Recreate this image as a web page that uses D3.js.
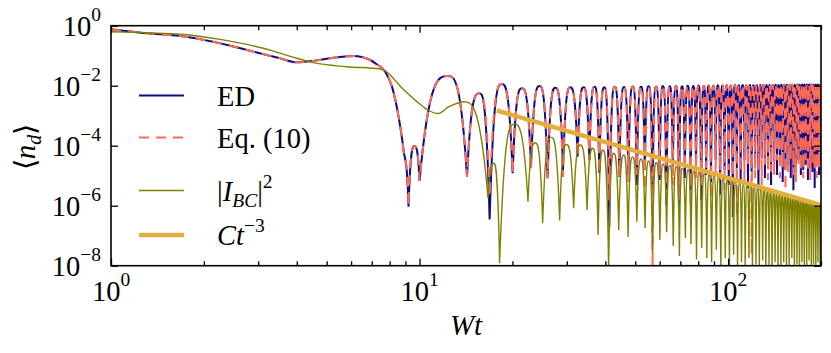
<!DOCTYPE html>
<html>
<head>
<meta charset="utf-8">
<script src="https://cdn.jsdelivr.net/npm/d3@7"></script>
<style>
  body { margin: 0; background: #fff; }
</style>
</head>
<body>
<div id="graphicContainer"></div>
<script>
// ---- data: [Wt, <n_d>] ----

// ED and Eq. (10), smooth start (both curves agree here)
var edStartT = [1.0, 1.31, 1.68, 2.14, 2.76, 3.53, 4.0, 4.53, 5.13, 6.11, 6.92, 7.18, 7.74, 8.14, 8.55, 8.87];
var edStartV = [0.76, 0.56, 0.45, 0.29, 0.155, 0.082, 0.060, 0.067, 0.082, 0.098, 0.072, 0.056, 0.029, 0.0093, 9.3e-4, 7.2e-5];

// maxima of the oscillation (shared by ED and Eq. (10))
var edPeakT = [9.63, 12.36, 15.62, 18.47, 21.48, 24.49, 27.54, 30.8, 34.0, 36.9, 39.7, 42.9,
  46.0, 49.1, 52.2, 55.3, 58.4, 61.5, 64.7, 67.8, 70.9, 74.0, 77.1, 80.2, 83.4, 86.5, 89.6, 92.7,
  95.8, 98.9, 102.0, 105.2, 108.3, 111.4, 114.5, 117.6, 120.7, 123.8, 127.0, 130.1, 133.2, 136.3,
  139.4, 142.5, 145.7, 148.8, 151.9, 155.0, 158.1, 161.2, 164.3, 167.5, 170.6, 173.7, 176.8, 179.9,
  183.0, 186.1, 189.3, 192.4, 195.5, 198.6];
var edPeakV = [9.8e-5, 0.021, 5.6e-3, 0.0114, 8.2e-3, 9.8e-3, 8.6e-3, 8.8e-3, 8.8e-3, 9.3e-3, 8.8e-3, 9.3e-3,
  9.0e-3, 9.4e-3, 9.2e-3, 9.6e-3, 9.4e-3, 9.8e-3, 9.5e-3, 9.9e-3, 9.6e-3, 1.0e-2, 9.7e-3, 1.01e-2, 9.9e-3, 1.02e-2, 1.0e-2, 1.03e-2,
  1.01e-2, 1.04e-2, 1.02e-2, 1.05e-2, 1.03e-2, 1.05e-2, 1.04e-2, 1.06e-2, 1.04e-2, 1.06e-2, 1.05e-2, 1.07e-2, 1.05e-2, 1.07e-2,
  1.06e-2, 1.08e-2, 1.06e-2, 1.08e-2, 1.07e-2, 1.08e-2, 1.07e-2, 1.09e-2, 1.08e-2, 1.09e-2, 1.08e-2, 1.1e-2, 1.09e-2, 1.1e-2,
  1.09e-2, 1.1e-2, 1.1e-2, 1.1e-2, 1.1e-2, 1.1e-2];

// minima: ED (blue) and Eq. (10) (dashed) differ in depth
var edDipT = [9.21, 10.0, 14.25, 16.87, 20.03, 22.97, 26.0, 29.17, 32.53, 35.5, 38.25, 41.2, 44.4,
  47.5, 50.6, 53.7, 56.9, 60.0, 63.1, 66.2, 69.3, 72.4, 75.6, 78.7, 81.8, 84.9, 88.0, 91.1, 94.2,
  97.4, 100.5, 103.6, 106.7, 109.8, 112.9, 116.0, 119.2, 122.3, 125.4, 128.5, 131.6, 134.7, 137.8,
  141.0, 144.1, 147.2, 150.3, 153.4, 156.5, 159.6, 162.8, 165.9, 169.0, 172.1, 175.2, 178.3, 181.4,
  184.6, 187.7, 190.8, 193.9, 197.0, 200.1];
var edDipV = [9.3e-7, 6.7e-6, 9.3e-6, 3.5e-7, 1.2e-5, 2.0e-5, 8.2e-6, 1.5e-5, 4.3e-5, 3.3e-5, 1.2e-5, 2.0e-7, 9.3e-6,
  1.05e-5, 4.9e-6, 1.55e-5, 2.3e-6, 7.2e-6, 1.05e-6, 1.33e-5, 7.2e-7, 8.4e-6, 3.3e-6, 2.3e-5, 1.55e-6, 1.05e-5, 6.2e-6, 3.3e-5, 2.3e-6,
  1.55e-5, 4.9e-6, 4.2e-7, 1.8e-5, 7.2e-6, 3.3e-5, 3.9e-6, 1.33e-5, 2.3e-5, 3.3e-6, 3.9e-5, 8.4e-6, 1.8e-5, 4.9e-6,
  2.9e-5, 1.05e-5, 4.9e-5, 6.2e-6, 1.55e-5, 2.3e-5, 8.4e-6, 3.3e-6, 1.8e-5, 3.3e-5, 1.05e-5, 1.55e-5, 2.3e-5, 7.2e-6,
  1.8e-5, 1.33e-5, 3.9e-6, 2.3e-5, 1.05e-5, 1.55e-5];
var eqDipV = [9.3e-7, 6.7e-6, 9.3e-6, 2.0e-6, 1.2e-5, 1.6e-5, 8.2e-6, 9.0e-6, 4.3e-5, 3.3e-5, 1.2e-5, 1.5e-6, 9.3e-6,
  6.2e-6, 1.05e-5, 3.3e-6, 8.4e-9, 1.05e-5, 2.3e-6, 4.9e-6, 1.55e-6, 1.55e-5, 1.05e-6, 8.4e-6, 4.9e-6, 1.8e-5, 1.8e-6, 1.05e-5, 7.2e-6,
  3.3e-6, 1.55e-5, 4.9e-6, 4.2e-7, 1.33e-5, 6.2e-6, 2.3e-5, 2.3e-8, 8.4e-6, 1.55e-5, 4.9e-6, 2.3e-5, 7.2e-6, 1.33e-5,
  1.05e-5, 3.3e-5, 8.4e-6, 1.8e-5, 3.3e-6, 1.33e-5, 3.3e-5, 1.05e-5, 6.2e-6, 2.3e-5, 1.55e-5, 8.4e-6, 3.3e-5, 1.33e-5,
  7.2e-6, 2.3e-5, 1.55e-5, 8.4e-6, 1.8e-5, 1.05e-5];

// |I_BC|^2
var olStartT = [1.0, 1.31, 1.68, 2.26, 3.12, 4.0, 4.53, 5.8, 7.46, 7.74, 8.77, 9.93, 10.7, 11.47, 12.42, 13.89];
var olStartV = [0.63, 0.58, 0.52, 0.35, 0.177, 0.082, 0.0585, 0.043, 0.036, 0.031, 8.4e-3, 2.65e-3, 1.49e-3, 1.18e-3, 1.95e-3, 2.93e-3];
var olPeakT = [17.38, 20.28, 23.7, 26.7, 29.9, 33.2, 36.4, 39.3, 42.6, 45.9,
  49.0, 52.2, 55.3, 58.5, 61.6, 64.8, 67.9, 71.1, 74.2, 77.4, 80.5, 83.7, 86.8, 90.0, 93.1, 96.3,
  99.4, 102.6, 105.7, 108.9, 112.0, 115.2, 118.3, 121.5, 124.6, 127.8, 130.9, 134.1, 137.2, 140.4,
  143.5, 146.7, 149.8, 153.0, 156.1, 159.3, 162.4, 165.6, 168.7, 171.9, 175.0, 178.2, 181.3, 184.5,
  187.6, 190.8, 193.9, 197.1, 200.2];
var olPeakV = [2.6e-5, 5.3e-4, 1.26e-4, 1.9e-4, 1.1e-4, 1.05e-4, 8.2e-5, 7.2e-5, 5.6e-5, 4.9e-5,
  4.17e-5, 3.59e-5, 3.13e-5, 2.75e-5, 2.45e-5, 2.19e-5, 1.98e-5, 1.76e-5, 1.58e-5, 1.43e-5, 1.28e-5, 1.16e-5, 1.05e-5, 9.5e-6, 8.66e-6, 7.88e-6,
  7.23e-6, 6.62e-6, 6.10e-6, 5.58e-6, 5.17e-6, 4.78e-6, 4.45e-6, 4.14e-6, 3.87e-6, 3.58e-6, 3.36e-6, 3.15e-6, 2.97e-6, 2.77e-6,
  2.61e-6, 2.46e-6, 2.31e-6, 2.19e-6, 2.06e-6, 1.95e-6, 1.84e-6, 1.75e-6, 1.66e-6, 1.58e-6, 1.50e-6, 1.43e-6, 1.36e-6, 1.29e-6,
  1.23e-6, 1.17e-6, 1.12e-6, 1.07e-6, 1.02e-6];
var olDipT = [16.67, 18.17, 22.46, 25.06, 28.44, 31.58, 34.9, 37.9, 41.0, 44.2,
  47.4, 50.6, 53.8, 56.9, 60.1, 63.2, 66.4, 69.5, 72.7, 75.8, 79.0, 82.1, 85.3, 88.4, 91.6, 94.7,
  97.9, 101.0, 104.2, 107.3, 110.5, 113.6, 116.8, 119.9, 123.1, 126.2, 129.4, 132.5, 135.7, 138.8,
  142.0, 145.1, 148.3, 151.4, 154.6, 157.7, 160.9, 164.0, 167.2, 170.3, 173.5, 176.6, 179.8, 182.9,
  186.1, 189.2, 192.4, 195.5, 198.7];
var olDipV = [1.77e-6, 1.2e-8, 1.36e-6, 2.6e-7, 3.2e-7, 8.2e-7, 7.2e-7, 1.05e-7, 8e-9, 1.55e-7,
  9.1e-8, 2.9e-7, 1.8e-7, 2.7e-8, 7.2e-8, 1.3e-7, 4.5e-8, 2.1e-8, 8.4e-8, 5.3e-8, 1.6e-8, 3.9e-8, 1.8e-8, 1.3e-8, 3.4e-8, 7e-9,
  1.8e-8, 9.8e-9, 2.3e-8, 7e-9, 1.3e-8, 8.4e-9, 1.8e-8, 7e-9, 1.1e-8, 7e-9, 1.5e-8, 7e-9, 1e-8, 7e-9,
  1.3e-8, 7e-9, 8.4e-9, 1.3e-8, 7e-9, 9.5e-9, 1.8e-8, 7e-9, 1.1e-8, 7e-9, 1.3e-8, 7e-9, 9.5e-9, 1.5e-8,
  7e-9, 1.1e-8, 7e-9, 1.3e-8, 7e-9];

// C t^-3 guide line
var ctT = [17.8, 200];
var ctV = [1.49e-3, 1.05e-6];

// axes
var xMajor = [1, 10, 100];
var xMajorExp = ["0", "1", "2"];
var xMinor = [2, 3, 4, 5, 6, 7, 8, 9, 20, 30, 40, 50, 60, 70, 80, 90, 200];
var yMajor = [1, 1e-2, 1e-4, 1e-6, 1e-8];
var yMajorExp = ["0", "\u22122", "\u22124", "\u22126", "\u22128"];

var seriesNames = ["ED", "Eq. (10)", "|I_BC|^2", "Ct^-3"];
var colors = { ed: "#0a0a8c", eq: "#ff6b57", ol: "#808000", ct: "#e3ae3c" };

var serif = "Liberation Serif";


function zipPoints(ts, vs) {
    return ts.map(function(t, i) { return [t, vs[i]]; });
}

// cubic curve through the points; sharp dips (more than a decade below both
// neighbours) get a cusp, everything else uses monotone slopes
function curveCusp(context) {
    var px, py;
    return {
        areaStart: function() {}, areaEnd: function() {},
        lineStart: function() { px = []; py = []; },
        point: function(x, y) { px.push(+x); py.push(+y); },
        lineEnd: function() {
            var n = px.length;
            if (!n) return;
            context.moveTo(px[0], py[0]);
            if (n < 2) return;
            var h = [], s = [];
            for (var i = 0; i < n - 1; i++) {
                h[i] = px[i + 1] - px[i];
                s[i] = (py[i + 1] - py[i]) / h[i];
            }
            var mIn = [], mOut = [];
            mIn[0] = mOut[0] = s[0];
            mIn[n - 1] = mOut[n - 1] = s[n - 2];
            for (var i = 1; i < n - 1; i++) {
                var cusp = py[i] - py[i - 1] > 25 && py[i] - py[i + 1] > 25;
                if (cusp) {
                    mIn[i] = 3 * s[i - 1];
                    mOut[i] = 3 * s[i];
                } else if (s[i - 1] * s[i] <= 0) {
                    mIn[i] = mOut[i] = 0;
                } else {
                    var p = (s[i - 1] * h[i] + s[i] * h[i - 1]) / (h[i - 1] + h[i]);
                    var m = 2 * Math.sign(s[i]) * Math.min(Math.abs(s[i - 1]), Math.abs(s[i]), 0.5 * Math.abs(p));
                    mIn[i] = mOut[i] = m;
                }
            }
            for (var i = 0; i < n - 1; i++) {
                var d = h[i] / 3;
                context.bezierCurveTo(px[i] + d, py[i] + mOut[i] * d,
                                      px[i + 1] - d, py[i + 1] - mIn[i + 1] * d,
                                      px[i + 1], py[i + 1]);
            }
        }
    };
}

function byT(a, b) { return a[0] - b[0]; }

var edPoints = zipPoints(edStartT, edStartV).concat(zipPoints(edPeakT, edPeakV), zipPoints(edDipT, edDipV)).sort(byT);
var eqPoints = zipPoints(edStartT, edStartV).concat(zipPoints(edPeakT, edPeakV), zipPoints(edDipT, eqDipV)).sort(byT);
var olPoints = zipPoints(olStartT, olStartV).concat(zipPoints(olPeakT, olPeakV), zipPoints(olDipT, olDipV)).sort(byT);
var ctPoints = zipPoints(ctT, ctV);

var margin = {top: 25.7, right: 10, bottom: 87.3, left: 111};
var width = 831 - margin.left - margin.right,
    height = 353 - margin.top - margin.bottom;

var svg = d3.select("#graphicContainer").append("svg")
    .attr("width", 831)
    .attr("height", 353)
    .attr("font-family", serif)
    .style("display", "block");

svg.append("defs").append("clipPath").attr("id", "plotClip")
    .append("rect").attr("width", width).attr("height", height);

var g = svg.append("g").attr("transform", "translate(" + margin.left + "," + margin.top + ")");

var x = d3.scaleLog().domain([1, 200]).range([0, width]);
var y = d3.scaleLog().domain([1e-8, 1]).range([height, 0]);

var cuspLine = d3.line().x(function(d) { return x(d[0]); }).y(function(d) { return y(d[1]); }).curve(curveCusp);
var straight = d3.line().x(function(d) { return x(d[0]); }).y(function(d) { return y(d[1]); });

var plot = g.append("g").attr("clip-path", "url(#plotClip)");

plot.append("path").datum(edPoints)
    .attr("d", cuspLine).attr("fill", "none")
    .attr("stroke", colors.ed).attr("stroke-width", 2);

plot.append("path").datum(eqPoints)
    .attr("d", cuspLine).attr("fill", "none")
    .attr("stroke", colors.eq).attr("stroke-width", 2)
    .attr("stroke-dasharray", "10,7");

plot.append("path").datum(olPoints)
    .attr("d", cuspLine).attr("fill", "none")
    .attr("stroke", colors.ol).attr("stroke-width", 1.4);

plot.append("path").datum(ctPoints)
    .attr("d", straight).attr("fill", "none")
    .attr("stroke", colors.ct).attr("stroke-width", 4.5);

// ticks point inwards on all four sides
function noDomain(sel) { sel.select(".domain").remove(); }

g.append("g").attr("transform", "translate(0," + height + ")")
    .call(d3.axisBottom(x).tickValues(xMajor).tickSize(-7).tickFormat("")).call(noDomain);
g.append("g").attr("transform", "translate(0," + height + ")")
    .call(d3.axisBottom(x).tickValues(xMinor).tickSize(-4.5).tickFormat("")).call(noDomain);
g.append("g")
    .call(d3.axisTop(x).tickValues(xMajor).tickSize(-7).tickFormat("")).call(noDomain);
g.append("g")
    .call(d3.axisTop(x).tickValues(xMinor).tickSize(-4.5).tickFormat("")).call(noDomain);
g.append("g")
    .call(d3.axisLeft(y).tickValues(yMajor).tickSize(-7).tickFormat("")).call(noDomain);
g.append("g").attr("transform", "translate(" + width + ",0)")
    .call(d3.axisRight(y).tickValues(yMajor).tickSize(-7).tickFormat("")).call(noDomain);

g.selectAll(".tick line").attr("stroke", "#000").attr("stroke-width", 1.3);

g.append("rect")
    .attr("width", width).attr("height", height)
    .attr("fill", "none").attr("stroke", "#000").attr("stroke-width", 1.6);

// tick labels 10^k
function powerLabel(sel, exp) {
    sel.append("tspan").text("10");
    sel.append("tspan").attr("dy", -15).attr("font-size", 19.5).text(exp);
}

xMajor.forEach(function(v, i) {
    g.append("text")
        .attr("x", x(v)).attr("y", height + 35.5)
        .attr("text-anchor", "middle").attr("font-size", 28.5)
        .attr("font-family", serif)
        .call(powerLabel, xMajorExp[i]);
});

yMajor.forEach(function(v, i) {
    g.append("text")
        .attr("x", -10).attr("y", y(v) + 10)
        .attr("text-anchor", "end").attr("font-size", 28.5)
        .attr("font-family", serif)
        .call(powerLabel, yMajorExp[i]);
});

// axis titles
svg.append("text")
    .attr("x", margin.left + width / 2).attr("y", 335)
    .attr("text-anchor", "middle").attr("font-size", 29)
    .attr("font-family", serif)
    .attr("font-style", "italic").text("Wt");

var yt = svg.append("text")
    .attr("transform", "translate(35,147) rotate(-90)")
    .attr("text-anchor", "middle").attr("font-size", 29)
    .attr("font-family", serif);
yt.append("tspan").text("\u27e8");
yt.append("tspan").attr("font-style", "italic").text("n");
yt.append("tspan").attr("font-style", "italic").attr("font-size", 20).attr("dy", 6).text("d");
yt.append("tspan").attr("dy", -6).text("\u27e9");

// legend
var legendRows = [
    {y: 95.5, color: colors.ed, w: 2.2, dash: null},
    {y: 137.5, color: colors.eq, w: 2.2, dash: "10,7"},
    {y: 190.5, color: colors.ol, w: 1.6, dash: null},
    {y: 235, color: colors.ct, w: 4.5, dash: null}
];

legendRows.forEach(function(r, i) {
    svg.append("line")
        .attr("x1", 139).attr("x2", 184).attr("y1", r.y).attr("y2", r.y)
        .attr("stroke", r.color).attr("stroke-width", r.w)
        .attr("stroke-dasharray", r.dash);
    var t = svg.append("text").attr("x", 217).attr("y", r.y + 10)
        .attr("font-size", 28.5).attr("font-family", serif);
    var name = seriesNames[i];
    if (name === "|I_BC|^2") {
        t.append("tspan").text("|");
        t.append("tspan").attr("font-style", "italic").text("I");
        t.append("tspan").attr("font-style", "italic").attr("font-size", 19.5).attr("dy", 6).text("BC");
        t.append("tspan").attr("dy", -6).text("|");
        t.append("tspan").attr("font-size", 19.5).attr("dy", -13).text("2");
    } else if (name === "Ct^-3") {
        t.append("tspan").attr("font-style", "italic").text("Ct");
        t.append("tspan").attr("font-size", 19.5).attr("dy", -13).text("\u22123");
    } else {
        t.text(name);
    }
});
</script>
</body>
</html>
